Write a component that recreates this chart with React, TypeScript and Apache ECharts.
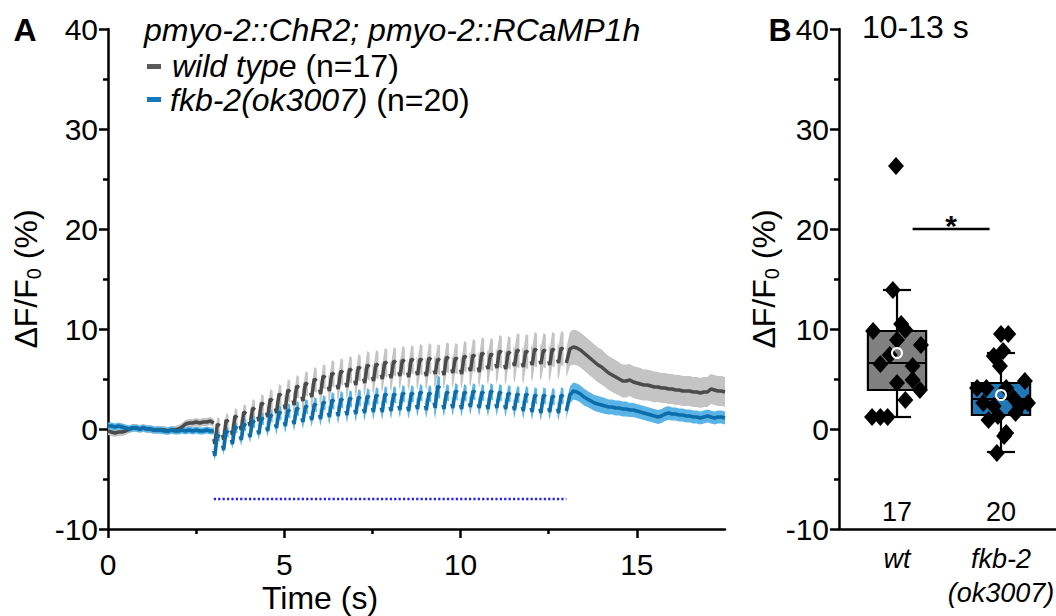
import React, { useEffect, useRef } from 'react';
import * as echarts from 'echarts';

// ---------- DATA ----------
const BASE_DT = 0.1; // sampling step of the continuous parts (s)
const wtBase = [-0.2, -0.3, -0.4, -0.3, -0.3, -0.2, 0.0, 0.1, 0.1, 0.0, 0.1, 0.0, 0.0, -0.1, -0.1, -0.1, -0.1, -0.2, -0.1, -0.1, 0.0, 0.2, 0.5, 0.6, 0.6, 0.7, 0.6, 0.7, 0.7, 0.8, 0.6];
const fkbBase = [0.3, 0.3, 0.2, 0.3, 0.2, 0.1, 0.0, 0.1, 0.1, 0.0, 0.1, 0.0, 0.0, -0.1, -0.1, -0.1, -0.2, -0.2, -0.1, -0.2, -0.2, -0.1, -0.2, -0.1, -0.2, -0.1, -0.2, -0.2, -0.1, -0.2, -0.2];
const wtBaseSem = 0.4;
const fkbBaseSem = 0.35;

const stimStart = 3.0;
const stimEnd = 13.0;
const stimLevel = -7;
const pulsePeriod = 0.25;

const wtPulseLow = [-1.5, -1.1, -0.6, -0.1, 0.3, 0.8, 1.2, 1.6, 2.0, 2.4, 2.8, 3.2, 3.5, 3.8, 4.0, 4.2, 4.4, 4.6, 4.8, 5.0, 5.1, 5.3, 5.2, 5.4, 5.3, 5.5, 5.4, 5.6, 5.5, 5.8, 5.7, 6.0, 6.1, 6.0, 6.3, 6.2, 6.4, 6.5, 6.4, 6.6];
const wtPulseHigh = [0.5, 0.9, 1.3, 1.7, 2.1, 2.6, 3.0, 3.5, 3.9, 4.3, 4.6, 5.0, 5.3, 5.6, 5.8, 6.0, 6.2, 6.4, 6.5, 6.7, 6.8, 6.9, 7.0, 7.0, 7.1, 7.0, 7.2, 7.1, 7.3, 7.4, 7.6, 7.5, 7.8, 7.7, 7.9, 7.8, 8.0, 7.9, 8.0, 8.1];
const wtPulseSem = [0.7, 0.7, 0.8, 0.8, 0.9, 0.9, 1.0, 1.0, 1.1, 1.1, 1.2, 1.2, 1.2, 1.3, 1.3, 1.3, 1.3, 1.4, 1.4, 1.4, 1.4, 1.4, 1.4, 1.5, 1.5, 1.5, 1.5, 1.5, 1.5, 1.6, 1.6, 1.6, 1.6, 1.6, 1.7, 1.7, 1.7, 1.7, 1.7, 1.7];

const fkbPulseLow = [-2.7, -2.1, -1.5, -1.1, -0.8, -0.5, -0.2, 0.1, 0.3, 0.5, 0.7, 0.9, 1.0, 1.2, 1.3, 1.4, 1.5, 1.6, 1.7, 1.7, 1.8, 1.9, 1.8, 2.0, 1.9, 2.1, 2.0, 2.1, 2.0, 2.2, 2.1, 2.0, 2.1, 2.0, 1.9, 1.8, 1.7, 1.6, 1.7, 1.6];
const fkbPulseHigh = [-0.6, -0.2, 0.2, 0.5, 0.8, 1.1, 1.4, 1.7, 1.9, 2.1, 2.3, 2.5, 2.7, 2.9, 3.0, 3.1, 3.2, 3.3, 3.4, 3.5, 3.5, 3.6, 3.6, 3.7, 3.6, 4.3, 3.7, 3.8, 3.7, 3.8, 3.7, 3.8, 3.7, 3.6, 3.5, 3.5, 3.4, 3.4, 3.3, 3.4];
const fkbPulseSem = [0.5, 0.5, 0.5, 0.6, 0.6, 0.6, 0.6, 0.7, 0.7, 0.7, 0.7, 0.7, 0.7, 0.8, 0.8, 0.8, 0.8, 0.8, 0.8, 0.8, 0.8, 0.8, 0.8, 0.8, 0.8, 1.1, 0.8, 0.8, 0.8, 0.8, 0.8, 0.8, 0.8, 0.8, 0.8, 0.8, 0.8, 0.8, 0.8, 0.8];

const postStart = 13.0;
const wtPost = [6.6, 8.0, 8.2, 8.1, 7.9, 7.6, 7.3, 7.0, 6.7, 6.4, 6.2, 5.9, 5.6, 5.4, 5.2, 5.0, 4.8, 4.8, 4.9, 4.7, 4.6, 4.5, 4.4, 4.4, 4.3, 4.2, 4.2, 4.1, 4.1, 4.0, 4.0, 3.9, 3.9, 3.8, 3.8, 3.8, 3.7, 3.7, 3.6, 3.7, 3.7, 4.0, 3.9, 3.8, 3.8, 3.7];
const wtPostSem = [1.5, 1.7, 1.75, 1.75, 1.75, 1.75, 1.75, 1.75, 1.75, 1.75, 1.75, 1.7, 1.7, 1.7, 1.7, 1.65, 1.65, 1.65, 1.6, 1.6, 1.6, 1.6, 1.55, 1.55, 1.55, 1.55, 1.5, 1.5, 1.5, 1.5, 1.5, 1.5, 1.5, 1.5, 1.5, 1.5, 1.5, 1.5, 1.5, 1.5, 1.5, 1.5, 1.5, 1.5, 1.5, 1.5];
const fkbPost = [1.8, 3.4, 3.8, 3.7, 3.5, 3.2, 3.0, 2.8, 2.6, 2.5, 2.4, 2.3, 2.2, 2.2, 2.1, 2.1, 2.0, 2.0, 1.9, 1.9, 1.8, 1.7, 1.6, 1.5, 1.4, 1.3, 1.2, 1.3, 1.5, 1.6, 1.5, 1.5, 1.4, 1.4, 1.3, 1.3, 1.2, 1.2, 1.1, 1.2, 1.3, 1.2, 1.1, 1.2, 1.2, 1.1];
const fkbPostSem = [0.8, 0.85, 0.85, 0.85, 0.85, 0.85, 0.8, 0.8, 0.8, 0.8, 0.8, 0.8, 0.75, 0.75, 0.75, 0.75, 0.75, 0.75, 0.7, 0.7, 0.7, 0.7, 0.7, 0.7, 0.7, 0.7, 0.7, 0.7, 0.7, 0.7, 0.65, 0.65, 0.65, 0.65, 0.65, 0.65, 0.65, 0.65, 0.65, 0.65, 0.65, 0.65, 0.65, 0.65, 0.65, 0.65];

const xTicks = [0, 5, 10, 15];
const xMinorTicks = [2.5, 7.5, 12.5];

// Panel B
const groupNames = ['wild type', 'fkb-2(ok3007)'];
const groupLabels = ['wt', 'fkb-2\n(ok3007)'];
const nCounts = [17, 20];
const boxStats = [
  [1.2, 3.9, 6.6, 9.8, 13.9], // whisker min, Q1, median, Q3, whisker max
  [-2.3, 1.4, 3.0, 4.6, 7.6],
];
const groupMeans = [7.6, 3.4];
const wtValues = [26.3, 13.9, 9.8, 10.5, 9.9, 8.9, 8.4, 7.4, 6.5, 6.3, 4.6, 4.9, 3.9, 2.9, 1.2, 1.2, 1.2];
const wtJitter = [-0.01, -0.04, -0.23, 0.04, 0.08, 0.0, 0.23, -0.07, -0.16, 0.15, 0.0, 0.15, 0.22, 0.08, -0.24, -0.16, -0.09];
const fkbValues = [9.5, 9.5, 7.3, 7.8, 6.3, 4.1, 4.8, 2.6, 2.6, 3.1, 2.3, 1.6, 0.9, 1.3, -0.4, -0.7, -2.4, 4.1, 4.1, 2.3];
const fkbJitter = [0.0, 0.07, -0.07, 0.02, -0.01, -0.23, 0.23, -0.17, 0.26, 0.12, -0.07, 0.14, -0.12, -0.03, 0.05, 0.03, -0.04, 0.05, -0.14, 0.18];
const sigBar = { from: 0.15, to: 0.89, level: 20, text: '*' };
const countLevel = -8.3;

// ---------- STYLE ----------
const FONT = '"Liberation Sans", Arial, sans-serif';
const TICK_FS = 30;
const TEXT_FS = 32;
const WT_DARK = '#4b4b4b';
const WT_BAND = '#c4c4c4';
const FKB_DARK = '#0b6daa';
const FKB_BAND = '#5ab5e6';
const BOX_COLORS = ['#808080', '#2277b6'];
const BOX_W = 0.56;
const CAP_W = 0.27;

type P3 = [number, number, number];

// Split the recording into continuous segments (baseline, one per light pulse, post-stimulus)
function buildSegments(base: number[], baseSem: number, low: number[], high: number[], sem: number[], post: number[], postSem: number[]): P3[][] {
  const segs: P3[][] = [];
  segs.push(base.map((v, i) => [i * BASE_DT, v, baseSem] as P3));
  low.forEach((lo, k) => {
    const t0 = stimStart + k * pulsePeriod;
    const hi = high[k];
    const amp = hi - lo;
    const s = sem[k];
    segs.push([
      [t0, lo + 0.25 * amp, s],
      [t0 + 0.03, lo, s],
      [t0 + 0.1, hi, s],
      [t0 + 0.17, hi - 0.1 * amp, s],
    ]);
  });
  segs.push(post.map((v, i) => [postStart + i * BASE_DT, v, postSem[i]] as P3));
  return segs;
}

function traceSeries(segs: P3[][], dark: string, band: string) {
  const meanData: any[] = [];
  segs.forEach((seg) => {
    seg.forEach((p) => meanData.push([p[0], p[1]]));
    meanData.push([seg[seg.length - 1][0], null]);
  });
  return [
    {
      type: 'custom', xAxisIndex: 0, yAxisIndex: 0, silent: true, z: 2,
      data: segs.map((s) => [s[0][0], s[0][1]]),
      encode: { x: 0, y: 1 },
      renderItem: (params: any, api: any) => {
        const seg = segs[params.dataIndex];
        const up = seg.map((p) => api.coord([p[0], p[1] + p[2]]));
        const lo = seg.map((p) => api.coord([p[0], p[1] - p[2]])).reverse();
        return { type: 'polygon', shape: { points: up.concat(lo) }, style: { fill: band } };
      },
    },
    {
      type: 'line', xAxisIndex: 0, yAxisIndex: 0, symbol: 'none', showSymbol: false, silent: true, connectNulls: false, z: 2,
      data: meanData,
      lineStyle: { color: dark, width: 3.5 },
    },
  ];
}

const axisLine = { color: '#000', width: 2.5 };

function yAxisFor(grid: number, nameGap: number) {
  return {
    gridIndex: grid,
    type: 'value',
    min: -10,
    max: 40,
    interval: 10,
    axisLine: { show: true, onZero: false, lineStyle: axisLine },
    axisTick: { show: true, inside: false, length: 9, lineStyle: axisLine },
    minorTick: { show: true, splitNumber: 2, length: 5, lineStyle: axisLine },
    axisLabel: { fontSize: TICK_FS, color: '#000', fontFamily: FONT, margin: 10 },
    splitLine: { show: false },
    minorSplitLine: { show: false },
    name: 'ΔF/F{sub|0} (%)',
    nameLocation: 'middle',
    nameGap,
    nameTextStyle: {
      fontSize: TEXT_FS,
      color: '#000',
      fontFamily: FONT,
      lineHeight: 36,
      rich: { sub: { fontSize: 20, fontFamily: FONT, color: '#000', lineHeight: 36, verticalAlign: 'bottom' } },
    },
  };
}

export default function App() {
  const ref = useRef<HTMLDivElement>(null);
  useEffect(() => {
    if (!ref.current) return;
    const chart = echarts.init(ref.current, null, { renderer: 'svg' });
    const wtSegs = buildSegments(wtBase, wtBaseSem, wtPulseLow, wtPulseHigh, wtPulseSem, wtPost, wtPostSem);
    const fkbSegs = buildSegments(fkbBase, fkbBaseSem, fkbPulseLow, fkbPulseHigh, fkbPulseSem, fkbPost, fkbPostSem);

    const textStyle = (extra: any) => ({ fontFamily: FONT, fill: '#000', ...extra });
    const leftMid = { textAlign: 'left', textVerticalAlign: 'middle', align: 'left', verticalAlign: 'middle' };
    const centerMid = { textAlign: 'center', textVerticalAlign: 'middle', align: 'center', verticalAlign: 'middle' };
    const italicRich = { i: { fontStyle: 'italic', fontSize: TEXT_FS, fontFamily: FONT, fill: '#000' } };

    const option: any = {
      animation: false,
      backgroundColor: '#fff',
      grid: [
        { left: 108, top: 29, width: 617, height: 500, containLabel: false, outerBoundsMode: 'none' },
        { left: 839, top: 29, width: 217, height: 500, containLabel: false, outerBoundsMode: 'none' },
      ],
      xAxis: [
        {
          gridIndex: 0, type: 'value', min: 0, max: 17.5, interval: 5, position: 'bottom',
          axisLine: { show: true, onZero: false, lineStyle: axisLine },
          axisTick: { show: true, customValues: xTicks, length: 9, lineStyle: axisLine },
          axisLabel: { customValues: xTicks, fontSize: TICK_FS, color: '#000', fontFamily: FONT, margin: 20 },
          splitLine: { show: false },
        },
        {
          gridIndex: 0, type: 'value', min: 0, max: 17.5, position: 'bottom',
          axisLine: { show: false, onZero: false },
          axisTick: { show: true, customValues: xMinorTicks, length: 5, lineStyle: axisLine },
          axisLabel: { show: false },
          splitLine: { show: false },
        },
        {
          gridIndex: 1, type: 'value', min: -0.558, max: 1.529, position: 'bottom',
          axisLine: { show: true, onZero: false, lineStyle: axisLine },
          axisTick: { show: false },
          axisLabel: {
            customValues: [0, 1],
            formatter: (v: number) => groupLabels[Math.round(v)],
            fontSize: 27, fontStyle: 'italic', color: '#000', fontFamily: FONT, lineHeight: 34, margin: 13,
          },
          splitLine: { show: false },
        },
      ],
      yAxis: [yAxisFor(0, 51), yAxisFor(1, 45)],
      series: [
        ...traceSeries(wtSegs, WT_DARK, WT_BAND),
        ...traceSeries(fkbSegs, FKB_DARK, FKB_BAND),
        {
          type: 'line', xAxisIndex: 0, yAxisIndex: 0, symbol: 'none', silent: true,
          data: [[stimStart, stimLevel], [stimEnd, stimLevel]],
          lineStyle: { color: '#1f1fff', width: 2.5, type: [2.2, 2.2] },
        },
        // Panel B: boxes
        {
          type: 'custom', xAxisIndex: 2, yAxisIndex: 1, silent: true, z: 3,
          data: boxStats.map((s, i) => [i, ...s]),
          encode: { x: 0, y: [1, 2, 3, 4, 5] },
          renderItem: (params: any, api: any) => {
            const i = params.dataIndex;
            const x = api.value(0);
            const [pMin, pQ1, pMed, pQ3, pMax] = [1, 2, 3, 4, 5].map((d) => api.coord([x, api.value(d)]));
            const bw = api.size([BOX_W, 0])[0];
            const cw = api.size([CAP_W, 0])[0];
            const cx = pMed[0];
            const st = { stroke: '#000', lineWidth: 2.2 };
            return {
              type: 'group',
              children: [
                { type: 'line', shape: { x1: cx, y1: pMax[1], x2: cx, y2: pQ3[1] }, style: st },
                { type: 'line', shape: { x1: cx, y1: pQ1[1], x2: cx, y2: pMin[1] }, style: st },
                { type: 'line', shape: { x1: cx - cw / 2, y1: pMax[1], x2: cx + cw / 2, y2: pMax[1] }, style: st },
                { type: 'line', shape: { x1: cx - cw / 2, y1: pMin[1], x2: cx + cw / 2, y2: pMin[1] }, style: st },
                { type: 'rect', shape: { x: cx - bw / 2, y: pQ3[1], width: bw, height: pQ1[1] - pQ3[1] }, style: { fill: BOX_COLORS[i], stroke: '#000', lineWidth: 2.2 } },
                { type: 'line', shape: { x1: cx - bw / 2, y1: pMed[1], x2: cx + bw / 2, y2: pMed[1] }, style: st },
              ],
            };
          },
        },
        {
          type: 'scatter', xAxisIndex: 2, yAxisIndex: 1, silent: true, z: 4,
          symbol: 'diamond', symbolSize: [16, 18],
          itemStyle: { color: '#000', opacity: 1 },
          data: [
            ...wtValues.map((v, i) => [0 + wtJitter[i], v]),
            ...fkbValues.map((v, i) => [1 + fkbJitter[i], v]),
          ],
        },
        {
          type: 'scatter', xAxisIndex: 2, yAxisIndex: 1, silent: true, z: 5,
          symbol: 'circle', symbolSize: 10,
          itemStyle: { color: 'rgba(0,0,0,0)', borderColor: '#fff', borderWidth: 2, opacity: 1 },
          data: groupMeans.map((m, i) => [i, m]),
        },
        {
          type: 'line', xAxisIndex: 2, yAxisIndex: 1, silent: true, symbol: 'none', z: 4,
          data: [[sigBar.from, sigBar.level], [sigBar.to, sigBar.level]],
          lineStyle: { color: '#000', width: 2.5 },
        },
        {
          type: 'scatter', xAxisIndex: 2, yAxisIndex: 1, silent: true, z: 4,
          symbolSize: 1, itemStyle: { color: 'rgba(0,0,0,0)', opacity: 1 },
          data: [[(sigBar.from + sigBar.to) / 2, sigBar.level + 0.2, sigBar.text]],
          label: { show: true, position: 'inside', formatter: (p: any) => p.value[2], fontSize: 30, fontWeight: 'bold', color: '#000', fontFamily: FONT, offset: [0, -2] },
        },
        {
          type: 'scatter', xAxisIndex: 2, yAxisIndex: 1, silent: true, z: 4,
          symbolSize: 1, itemStyle: { color: 'rgba(0,0,0,0)', opacity: 1 },
          data: nCounts.map((n, i) => [i, countLevel, String(n)]),
          label: { show: true, position: 'inside', formatter: (p: any) => p.value[2], fontSize: 27, color: '#000', fontFamily: FONT },
        },
      ],
      graphic: [
        { type: 'text', x: 25, y: 30, silent: true, style: textStyle({ text: 'A', fontSize: 32, fontWeight: 'bold', ...centerMid }) },
        { type: 'text', x: 780, y: 30, silent: true, style: textStyle({ text: 'B', fontSize: 32, fontWeight: 'bold', ...centerMid }) },
        { type: 'text', x: 144, y: 30, silent: true, style: textStyle({ text: 'pmyo-2::ChR2; pmyo-2::RCaMP1h', fontSize: TEXT_FS, fontStyle: 'italic', ...leftMid }) },
        { type: 'rect', silent: true, shape: { x: 147, y: 64, width: 14, height: 5 }, style: { fill: '#5a5a5a' } },
        { type: 'text', x: 172, y: 66, silent: true, style: textStyle({ text: `{i|${groupNames[0]}} (n=${nCounts[0]})`, fontSize: TEXT_FS, ...leftMid, rich: italicRich }) },
        { type: 'rect', silent: true, shape: { x: 147, y: 97, width: 14, height: 5 }, style: { fill: '#1878bd' } },
        { type: 'text', x: 170, y: 100, silent: true, style: textStyle({ text: `{i|${groupNames[1]}} (n=${nCounts[1]})`, fontSize: TEXT_FS, ...leftMid, rich: italicRich }) },
        { type: 'text', x: 862, y: 27, silent: true, style: textStyle({ text: '10-13 s', fontSize: TEXT_FS, ...leftMid }) },
        { type: 'text', x: 320, y: 598, silent: true, style: textStyle({ text: 'Time (s)', fontSize: TEXT_FS, ...centerMid }) },
      ],
    };
    chart.setOption(option);
    return () => chart.dispose();
  }, []);
  return <div ref={ref} style={{ position: 'absolute', left: 0, top: 0, width: 1056, height: 616, background: '#fff' }} />;
}
